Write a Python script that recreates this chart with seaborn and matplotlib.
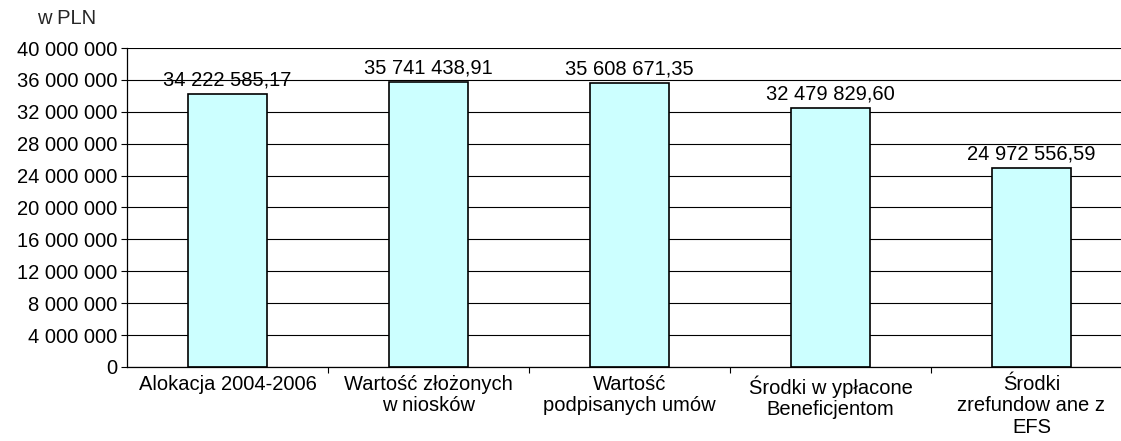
import matplotlib
matplotlib.use("Agg")
import matplotlib.pyplot as plt
import numpy as np
import pandas as pd
import seaborn as sns
from matplotlib.ticker import FixedLocator, FuncFormatter

# dane
categories = [
    "Alokacja 2004-2006",
    "Wartość złożonych\nw niosków",
    "Wartość\npodpisanych umów",
    "Środki w ypłacone\nBeneficjentom",
    "Środki\nzrefundow ane z\nEFS",
]
values = [34222585.17, 35741438.91, 35608671.35, 32479829.60, 24972556.59]
value_labels = ["34 222 585,17", "35 741 438,91", "35 608 671,35",
                "32 479 829,60", "24 972 556,59"]
y_ticks = list(range(0, 40000001, 4000000))

sns.set_theme(style="white")
plt.rcParams["font.family"] = ["Liberation Sans", "DejaVu Sans"]

FS = 14.5

df = pd.DataFrame({"kategoria": categories, "wartosc": values})

fig = plt.figure(figsize=(11.21, 4.41), dpi=100)
ax = fig.add_axes([0.1133, 0.168, 0.8965, 0.723])

sns.barplot(data=df, x="kategoria", y="wartosc", ax=ax, color="#CCFFFF",
            edgecolor="black", linewidth=1.2, width=0.395, saturation=1)

ax.set_ylim(0, 40000000)
ax.set_xlim(-0.5, len(categories) - 0.5)
ax.set_yticks(y_ticks)
ax.yaxis.set_major_formatter(FuncFormatter(lambda v, p: f"{int(v):,}".replace(",", " ")))
ax.yaxis.grid(True, color="black", linewidth=0.8)
ax.set_axisbelow(True)

# etykiety w środku kategorii, kreski na granicach
ax.set_xticks(np.arange(len(categories)))
ax.set_xticklabels(categories, fontsize=FS, color="black", linespacing=1.15)
ax.tick_params(axis="x", which="major", length=0, pad=6)
ax.xaxis.set_minor_locator(FixedLocator(np.arange(0.5, len(categories) - 0.5, 1)))
ax.tick_params(axis="x", which="minor", length=4, width=0.8, color="black", bottom=True)
ax.tick_params(axis="y", length=4, width=0.8, color="black", left=True,
               labelsize=FS, labelcolor="black", pad=3)

for side in ["top", "right"]:
    ax.spines[side].set_visible(False)
for side in ["left", "bottom"]:
    ax.spines[side].set_color("black")
    ax.spines[side].set_linewidth(0.9)

ax.set_xlabel("")
ax.set_ylabel("")

for i, (v, lab) in enumerate(zip(values, value_labels)):
    ax.annotate(lab, (i, v), xytext=(0, 3), textcoords="offset points",
                ha="center", va="bottom", fontsize=FS, color="black")

fig.text(0.059, 0.957, "w PLN", fontsize=FS, ha="center", va="center")

fig.savefig("out.png", dpi=100)
